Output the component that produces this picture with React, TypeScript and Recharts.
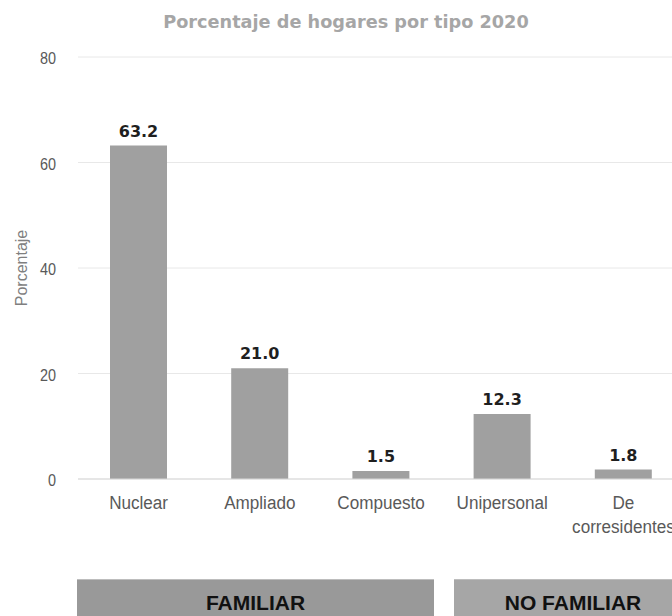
import React from "react";
import { BarChart, Bar, XAxis, YAxis, CartesianGrid, LabelList } from "recharts";

const categories = ["Nuclear", "Ampliado", "Compuesto", "Unipersonal", "De corresidentes"];
const porcentajes = [63.2, 21.0, 1.5, 12.3, 1.8];
const yTicks = [0, 20, 40, 60, 80];
const grupos = ["FAMILIAR", "NO FAMILIAR"];

const data = categories.map((name, i) => ({ name, valor: porcentajes[i] }));

const SANS = "'Liberation Sans', Arial, sans-serif";

function CategoryTick({ x, y, payload }: any) {
  const lines = String(payload.value).split(" ");
  return (
    <g transform={`translate(${x},${y})`}>
      {lines.map((l, i) => (
        <text
          key={i}
          x={0}
          y={22 + i * 24}
          transform="scale(0.9,1)"
          textAnchor="middle"
          fill="#595959"
          fontSize={19}
          fontFamily={SANS}
        >
          {l}
        </text>
      ))}
    </g>
  );
}

function ValueTick({ x, y, payload }: any) {
  return (
    <text
      transform={`translate(${x},${y + 7}) scale(0.9,1)`}
      textAnchor="end"
      fill="#595959"
      fontSize={16}
      fontFamily={SANS}
    >
      {payload.value}
    </text>
  );
}

const boxStyle: React.CSSProperties = {
  position: "absolute",
  top: 571,
  height: 46,
  display: "flex",
  alignItems: "center",
  justifyContent: "center",
  fontFamily: SANS,
  fontWeight: "bold",
  fontSize: 21,
  color: "#111",
  borderTop: "1px solid #bdbdbd",
};

export default function App() {
  return (
    <div style={{ position: "fixed", left: 0, top: 0, width: 672, height: 616, overflow: "hidden", background: "#fff" }}>
      <div style={{ position: "absolute", left: 8, top: 8, width: 700, height: 620 }}>
        <div
          style={{
            position: "absolute",
            top: 4,
            left: 0,
            width: 676,
            lineHeight: "20px",
            textAlign: "center",
            fontFamily: "'DejaVu Sans', Verdana, sans-serif",
            fontWeight: "bold",
            fontSize: 17.7,
            color: "#a6a6a6",
          }}
        >
          Porcentaje de hogares por tipo 2020
        </div>
        <BarChart width={700} height={532} data={data} margin={{ top: 49, right: 24, left: 0, bottom: 1 }}>
          <CartesianGrid vertical={false} stroke="#e8e8e8" />
          <XAxis
            dataKey="name"
            height={60}
            interval={0}
            tickLine={false}
            axisLine={{ stroke: "#d9d9d9" }}
            tick={<CategoryTick />}
          />
          <YAxis
            width={70}
            domain={[0, 80]}
            ticks={yTicks}
            axisLine={false}
            tickLine={false}
            tickMargin={16}
            tick={<ValueTick />}
            label={{
              value: "Porcentaje",
              angle: -90,
              position: "insideLeft",
              offset: 13,
              style: { textAnchor: "middle", fill: "#7f7f7f", fontSize: 16, fontFamily: SANS },
            }}
          />
          <Bar dataKey="valor" fill="#a0a0a0" barSize={57} isAnimationActive={false}>
            <LabelList
              dataKey="valor"
              position="top"
              offset={9}
              formatter={(v: any) => Number(v).toFixed(1)}
              style={{ fontFamily: "'DejaVu Sans', Verdana, sans-serif", fontWeight: "bold", fontSize: 16, fill: "#1f1f1f" }}
            />
          </Bar>
        </BarChart>
        <div style={{ ...boxStyle, left: 69, width: 357, background: "#999999" }}>{grupos[0]}</div>
        <div style={{ ...boxStyle, left: 446, width: 238, background: "#a6a6a6" }}>{grupos[1]}</div>
      </div>
    </div>
  );
}
